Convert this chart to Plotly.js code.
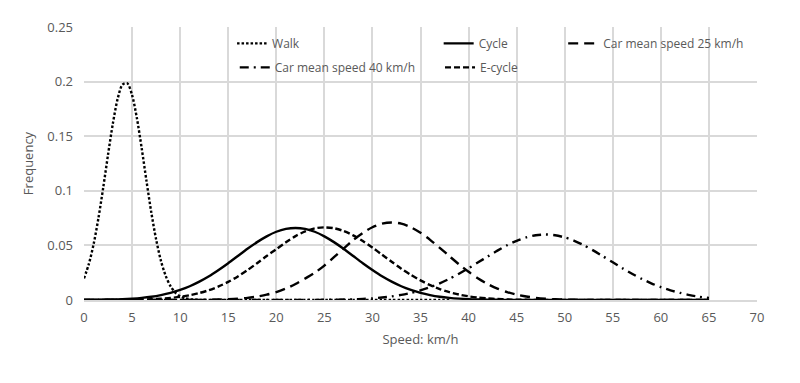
<!DOCTYPE html>
<html>
<head>
<meta charset="utf-8">
<script src="https://cdn.plot.ly/plotly-3.0.1.min.js"></script>
<style>html,body{margin:0;padding:0;background:#fff;}#chart{width:800px;height:383px;}</style>
</head>
<body>
<div id="chart"></div>
<script>
// Speed (km/h) sample points
const speed = [0,1,2,3,4,5,6,7,8,9,10,11,12,13,14,15,16,17,18,19,20,21,22,23,24,25,26,27,28,29,30,31,32,33,34,35,36,37,38,39,40,41,42,43,44,45,46,47,48,49,50,51,52,53,54,55,56,57,58,59,60,61,62,63,64,65];
const walkSpeed = [0,0.5,1,1.5,2,2.5,3,3.5,4,4.5,5,5.5,6,6.5,7,7.5,8,8.5,9,9.5,10,10.5,11,11.5,12,13,14,15,16,17,18,19,20,21,22,23,24,25,26,27,28,29,30,31,32,33,34,35,36,37,38];

const walk = [0.0198,0.0328,0.0511,0.0749,0.1030,0.1331,0.1615,0.1842,0.1973,0.1985,0.1877,0.1666,0.1390,0.1089,0.0802,0.0555,0.0360,0.0220,0.0126,0.0068,0.0034,0.0016,0.0007,0.0003,0.0001,0,0,0,0,0,0,0,0,0,0,0,0,0,0,0,0,0,0,0,0,0,0,0,0,0,0];
const cycle = [0.0001,0.0002,0.0003,0.0005,0.0008,0.0013,0.0020,0.0030,0.0045,0.0065,0.0092,0.0126,0.0168,0.0217,0.0275,0.0337,0.0403,0.0469,0.0530,0.0583,0.0625,0.0651,0.0660,0.0651,0.0625,0.0583,0.0530,0.0469,0.0403,0.0337,0.0275,0.0217,0.0168,0.0126,0.0092,0.0065,0.0045,0.0030,0.0020,0.0013,0.0008,0.0005,0.0003,0.0002,0.0001,0,0,0,0,0,0,0,0,0,0,0,0,0,0,0,0,0,0,0,0,0];
const car25 = [0,0,0,0,0,0,0,0,0,0,0,0,0.0001,0.0002,0.0004,0.0007,0.0012,0.0020,0.0032,0.0049,0.0073,0.0105,0.0146,0.0197,0.0250,0.0315,0.0392,0.0470,0.0548,0.0614,0.0666,0.0699,0.0710,0.0699,0.0666,0.0616,0.0551,0.0478,0.0402,0.0327,0.0258,0.0197,0.0146,0.0105,0.0073,0.0049,0.0032,0.0020,0.0012,0.0007,0.0004,0.0002,0.0001,0,0,0,0,0,0,0,0,0,0,0,0,0];
const car40 = [0,0,0,0,0,0,0,0,0,0,0,0,0,0,0,0,0,0,0,0,0,0,0,0,0.0001,0.0002,0.0003,0.0004,0.0006,0.0010,0.0015,0.0023,0.0033,0.0047,0.0065,0.0089,0.0118,0.0153,0.0194,0.0240,0.0291,0.0345,0.0399,0.0452,0.0501,0.0542,0.0573,0.0593,0.0600,0.0593,0.0573,0.0542,0.0501,0.0452,0.0399,0.0345,0.0291,0.0240,0.0194,0.0153,0.0118,0.0089,0.0065,0.0045,0.0030,0.0019];
const ecycle = [0,0,0,0,0.0001,0.0003,0.0004,0.0007,0.0012,0.0019,0.0029,0.0044,0.0064,0.0090,0.0124,0.0166,0.0216,0.0273,0.0337,0.0403,0.0465,0.0528,0.0585,0.0628,0.0656,0.0665,0.0657,0.0632,0.0592,0.0540,0.0480,0.0415,0.0350,0.0287,0.0230,0.0180,0.0136,0.0100,0.0072,0.0050,0.0034,0.0022,0.0014,0.0009,0.0005,0.0003,0.0002,0.0001,0,0,0,0,0,0,0,0,0,0,0,0,0,0,0,0,0,0];

const names = ['Walk','Cycle','Car mean speed 25 km/h','Car mean speed 40 km/h','E-cycle'];
const xTicks = [0,5,10,15,20,25,30,35,40,45,50,55,60,65,70];

const gray = '#595959';
const fontFam = '"Open Sans", "Noto Sans", sans-serif';

function tr(x, y, name, dash, legend, w) {
  return {x: x, y: y, name: name, type: 'scatter', mode: 'lines',
    line: {color: '#000', width: w, dash: dash, shape: 'spline', smoothing: 0.8},
    legend: legend, hoverinfo: 'skip'};
}

const data = [
  tr(speed, cycle, names[1], 'solid', 'legend3', 2.4),
  tr(speed, ecycle, names[4], '6px,3px', 'legend4', 2.4),
  tr(speed, car25, names[2], '10px,6px', 'legend5', 2.4),
  tr(speed, car40, names[3], '9px,5px,2px,5px', 'legend2', 2.4),
  tr(walkSpeed, walk, names[0], '2.5px,2px', 'legend', 2.4)
];

function leg(x, y) {
  return {x: x, y: y, xanchor: 'left', yanchor: 'middle', bgcolor: 'rgba(0,0,0,0)',
    font: {family: fontFam, size: 12, color: gray}, borderwidth: 0};
}

const layout = {
  width: 800, height: 383,
  margin: {l: 84, r: 43, t: 27, b: 83},
  paper_bgcolor: '#fff', plot_bgcolor: '#fff',
  font: {family: fontFam, color: gray, size: 13},
  showlegend: true,
  legend: leg(0.220, 0.940),
  legend2: leg(0.224, 0.852),
  legend3: leg(0.527, 0.940),
  legend4: leg(0.529, 0.852),
  legend5: leg(0.712, 0.940),
  xaxis: {
    range: [0, 70], tickvals: xTicks, ticktext: xTicks.map(String),
    showgrid: true, gridcolor: '#d9d9d9', gridwidth: 2,
    zeroline: false, showline: true, linecolor: '#d9d9d9', linewidth: 2,
    ticks: '', ticklabelstandoff: 4,
    tickfont: {family: fontFam, size: 13, color: gray},
    title: {text: 'Speed: km/h', font: {family: fontFam, size: 13, color: gray}, standoff: 10}
  },
  yaxis: {
    range: [0, 0.25], dtick: 0.05, tick0: 0,
    showgrid: true, gridcolor: '#d9d9d9', gridwidth: 2,
    zeroline: false, showline: false,
    ticks: '', ticklabelstandoff: 10,
    tickfont: {family: fontFam, size: 13, color: gray},
    title: {text: 'Frequency', font: {family: fontFam, size: 13, color: gray}, standoff: 10}
  }
};

Plotly.newPlot('chart', data, layout, {displayModeBar: false, staticPlot: true});
</script>
</body>
</html>
